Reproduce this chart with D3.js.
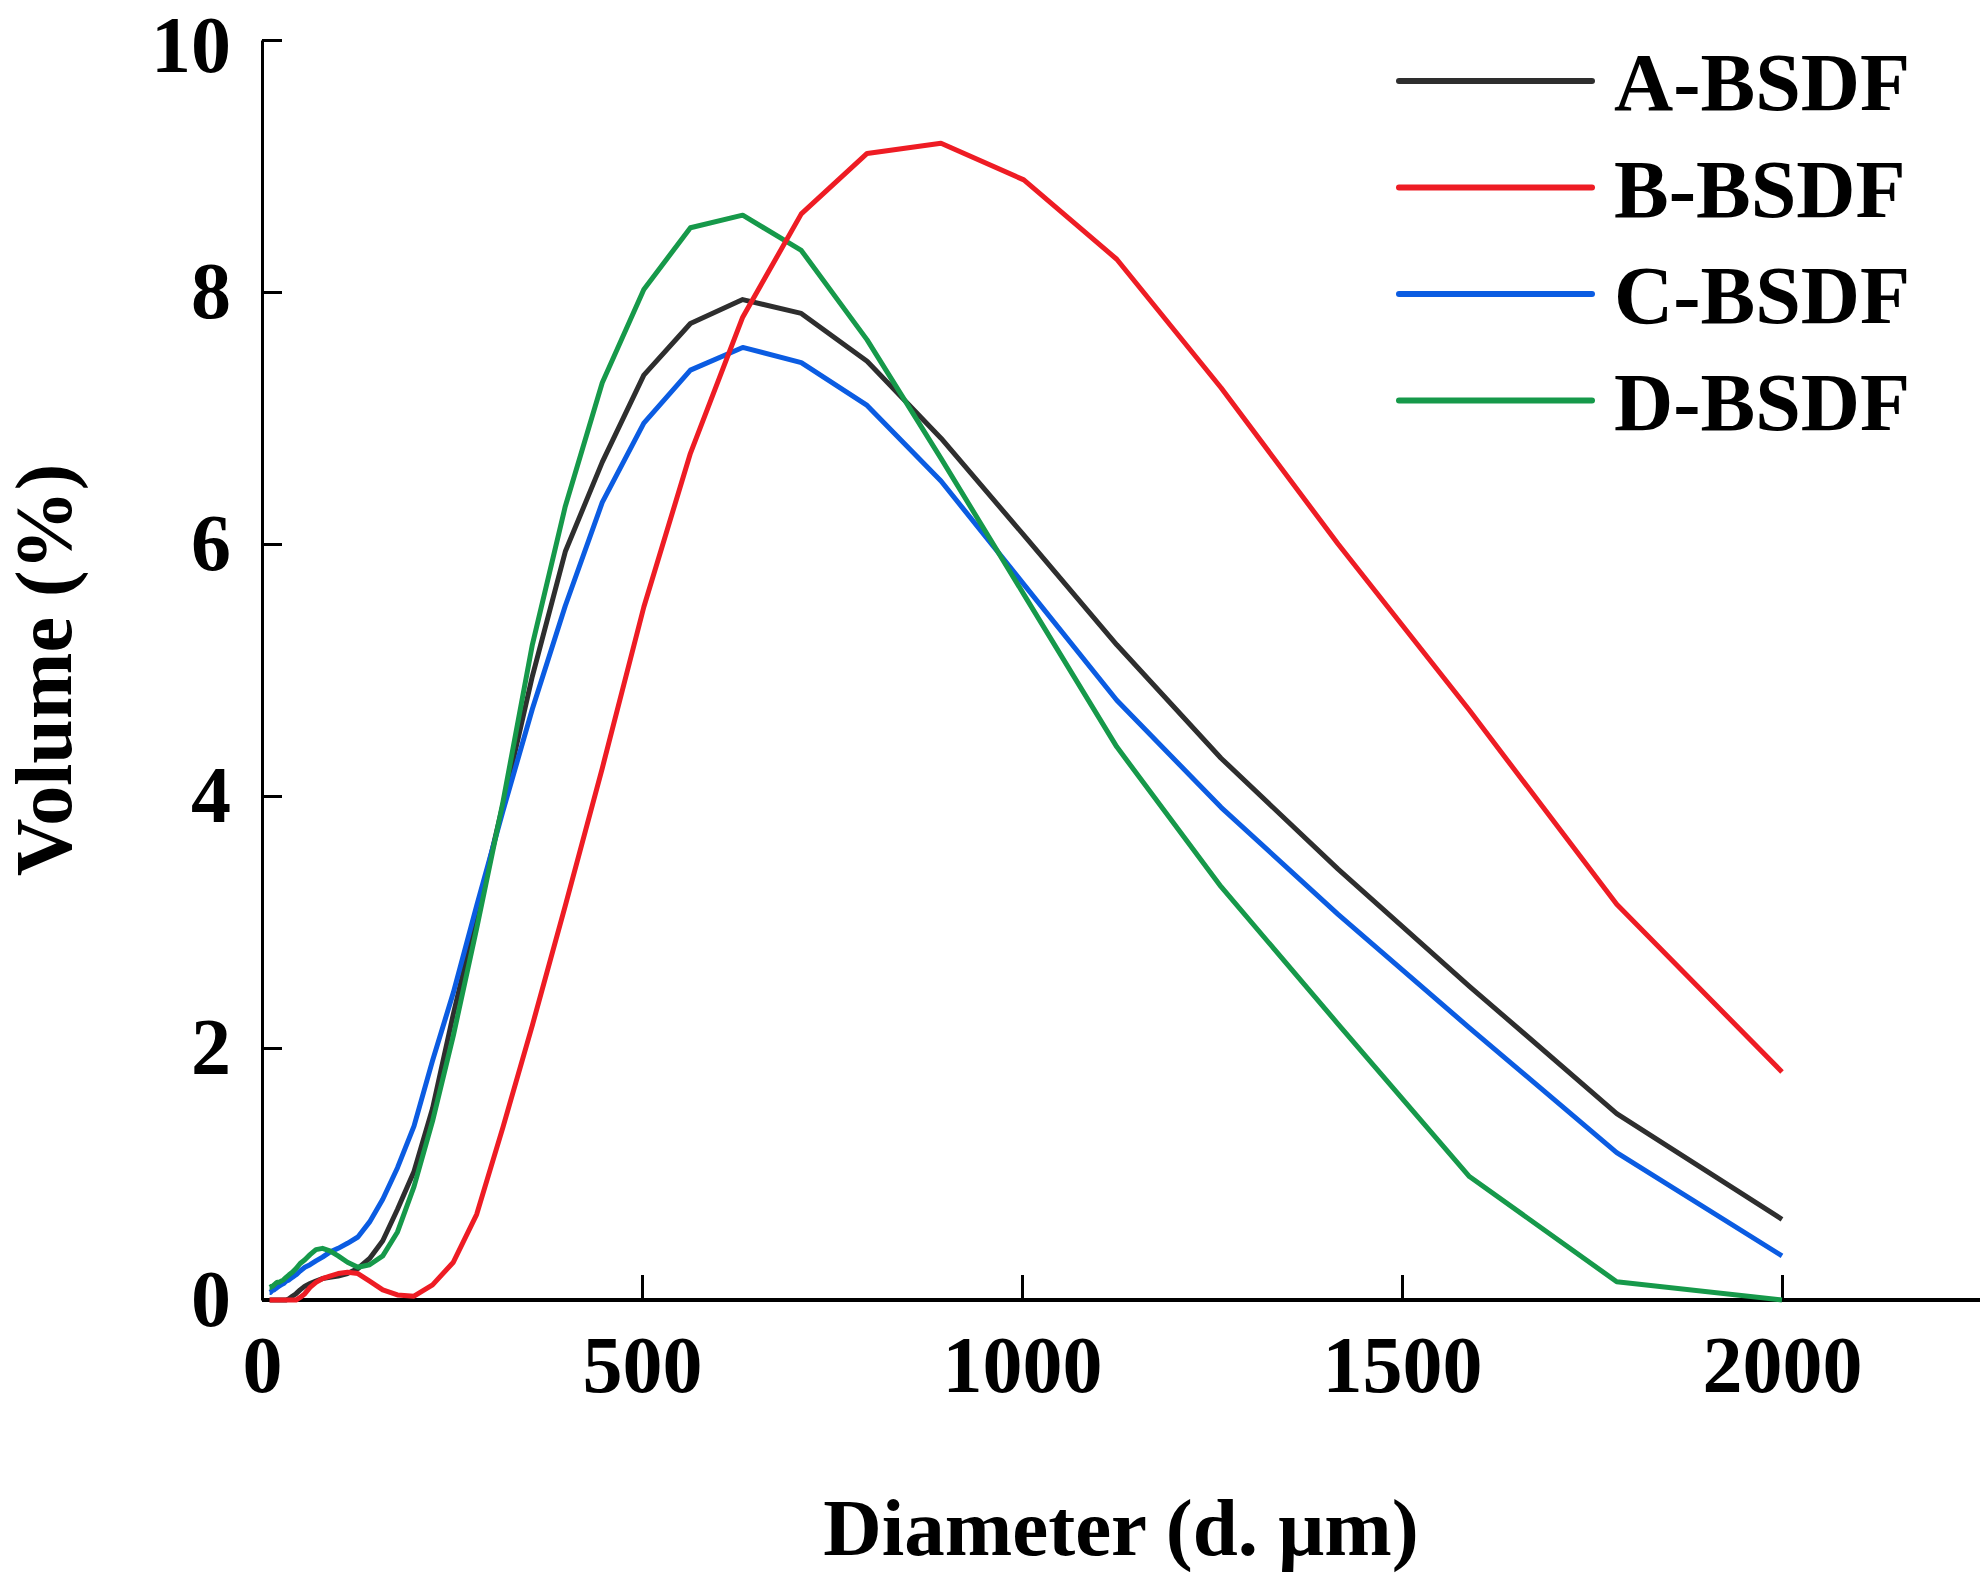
<!DOCTYPE html>
<html>
<head>
<meta charset="utf-8">
<script src="https://cdn.jsdelivr.net/npm/d3@7"></script>
<style>
  body { margin: 0; background: #fff; }
  text { font-family: "Liberation Serif", "Times New Roman", serif; font-weight: bold; fill: #000; }
</style>
</head>
<body>
<div id="chart"></div>
<script>
// size classes (um) and volume % per sample
const diameters = [10, 11.2, 12.6, 14.2, 15.9, 17.8, 20, 22.4, 25.2, 28.3, 31.7, 35.6, 39.9, 44.8, 50.2, 56.4,
  63.2, 71.0, 79.6, 89.3, 100.2, 112.5, 126.2, 141.6, 158.9, 178.3, 200, 224.4, 251.8, 282.5, 317, 355.7,
  399.1, 447.7, 502.4, 563.7, 632.5, 709.6, 796.2, 893.4, 1002.4, 1124.7, 1261.9, 1415.9, 1588.7, 1782.5, 2000];

const volA = [0, 0, 0, 0, 0, 0, 0, 0, 0, 0, 0, 0.01, 0.03, 0.05, 0.08, 0.11,
  0.13, 0.15, 0.17, 0.18, 0.19, 0.21, 0.25, 0.33, 0.47, 0.72, 1.02, 1.52, 2.27, 3.05, 3.93, 4.95,
  5.94, 6.65, 7.34, 7.75, 7.94, 7.83, 7.45, 6.84, 6.07, 5.2, 4.3, 3.42, 2.49, 1.48, 0.64];

const volB = [0, 0, 0, 0, 0, 0, 0, 0, 0, 0, 0, 0, 0, 0, 0.02, 0.05,
  0.1, 0.14, 0.17, 0.19, 0.21, 0.22, 0.21, 0.15, 0.08, 0.04, 0.03, 0.12, 0.3, 0.68, 1.37, 2.18,
  3.13, 4.22, 5.5, 6.72, 7.8, 8.62, 9.1, 9.18, 8.89, 8.26, 7.24, 6.0, 4.68, 3.14, 1.81];

const volC = [0.06, 0.06, 0.07, 0.08, 0.08, 0.09, 0.1, 0.11, 0.12, 0.13, 0.15, 0.16, 0.18, 0.2, 0.23, 0.26,
  0.28, 0.31, 0.34, 0.38, 0.41, 0.45, 0.5, 0.62, 0.8, 1.05, 1.38, 1.9, 2.44, 3.13, 3.88, 4.69,
  5.51, 6.33, 6.96, 7.38, 7.56, 7.44, 7.1, 6.5, 5.68, 4.76, 3.91, 3.06, 2.16, 1.17, 0.35];

const volD = [0.1, 0.1, 0.11, 0.11, 0.12, 0.13, 0.14, 0.14, 0.15, 0.16, 0.18, 0.2, 0.22, 0.25, 0.29, 0.32,
  0.36, 0.4, 0.41, 0.39, 0.35, 0.3, 0.26, 0.28, 0.35, 0.54, 0.9, 1.42, 2.1, 2.95, 3.95, 5.2,
  6.3, 7.28, 8.02, 8.51, 8.61, 8.33, 7.62, 6.68, 5.6, 4.39, 3.28, 2.19, 0.98, 0.145, 0];

const names = ["A-BSDF", "B-BSDF", "C-BSDF", "D-BSDF"];
const colors = ["#2e2e2e", "#ee1c24", "#0b5ce2", "#16994a"];
const xTicks = [0, 500, 1000, 1500, 2000];
const yTicks = [0, 2, 4, 6, 8, 10];

const series = [volA, volB, volC, volD].map((v, i) => ({
  name: names[i],
  color: colors[i],
  values: diameters.map((d, j) => ({ d: d, v: v[j] }))
}));

const w = 1983, h = 1588;
const svg = d3.select("#chart").append("svg")
  .attr("width", w)
  .attr("height", h);

const x = d3.scaleLinear().domain([0, 2000]).range([262, 1782]),
      y = d3.scaleLinear().domain([0, 10]).range([1300, 40]);
const axisEnd = 1980;

// y axis, ticks point inward
const gy = svg.append("g").attr("transform", `translate(${x(0)},0)`)
  .call(d3.axisLeft(y).tickValues(yTicks).tickFormat(d3.format("d"))
    .tickSizeInner(-20).tickSizeOuter(0).tickPadding(31));
gy.select(".domain").attr("stroke", "#000").attr("stroke-width", 3);
gy.selectAll(".tick line").attr("stroke", "#000").attr("stroke-width", 3);
gy.selectAll(".tick text").attr("font-size", 80).attr("font-family", null);
// keep the top label inside the page
gy.selectAll(".tick text").filter(d => d === 10).attr("y", 6);

// x axis
const gx = svg.append("g").attr("transform", `translate(0,${y(0)})`)
  .call(d3.axisBottom(x).tickValues(xTicks).tickFormat(d3.format("d"))
    .tickSizeInner(-25).tickSizeOuter(0).tickPadding(35));
gx.select(".domain").remove();
gx.selectAll(".tick line").attr("stroke", "#000").attr("stroke-width", 3);
gx.selectAll(".tick text").attr("font-size", 80).attr("font-family", null);
gx.append("line")
  .attr("x1", x(0)).attr("x2", axisEnd)
  .attr("y1", 0).attr("y2", 0)
  .attr("stroke", "#000").attr("stroke-width", 4);

svg.append("text").attr("x", (x(0) + axisEnd) / 2).attr("y", 1555)
  .attr("text-anchor", "middle").attr("font-size", 81)
  .text("Diameter (d. μm)");
svg.append("text").attr("transform", "rotate(-90)")
  .attr("x", -(y(0) + y(10)) / 2).attr("y", 71)
  .attr("text-anchor", "middle").attr("font-size", 80)
  .text("Volume (%)");

const line = d3.line()
  .x(p => x(p.d))
  .y(p => y(p.v));

// draw order: A, C, D, then B on top
[0, 2, 3, 1].forEach(i => {
  svg.append("path")
    .datum(series[i].values)
    .attr("fill", "none")
    .attr("stroke", series[i].color)
    .attr("stroke-width", 5)
    .attr("stroke-linejoin", "round")
    .attr("d", line);
});

const legend = svg.append("g").attr("transform", "translate(1399,81)");
series.forEach((s, i) => {
  legend.append("line")
    .attr("x1", 0).attr("x2", 193)
    .attr("y1", i * 106.5).attr("y2", i * 106.5)
    .attr("stroke", s.color).attr("stroke-width", 6).attr("stroke-linecap", "round");
  legend.append("text")
    .attr("x", 215).attr("y", i * 106.5 + 29)
    .attr("font-size", 82)
    .text(s.name);
});
</script>
</body>
</html>
